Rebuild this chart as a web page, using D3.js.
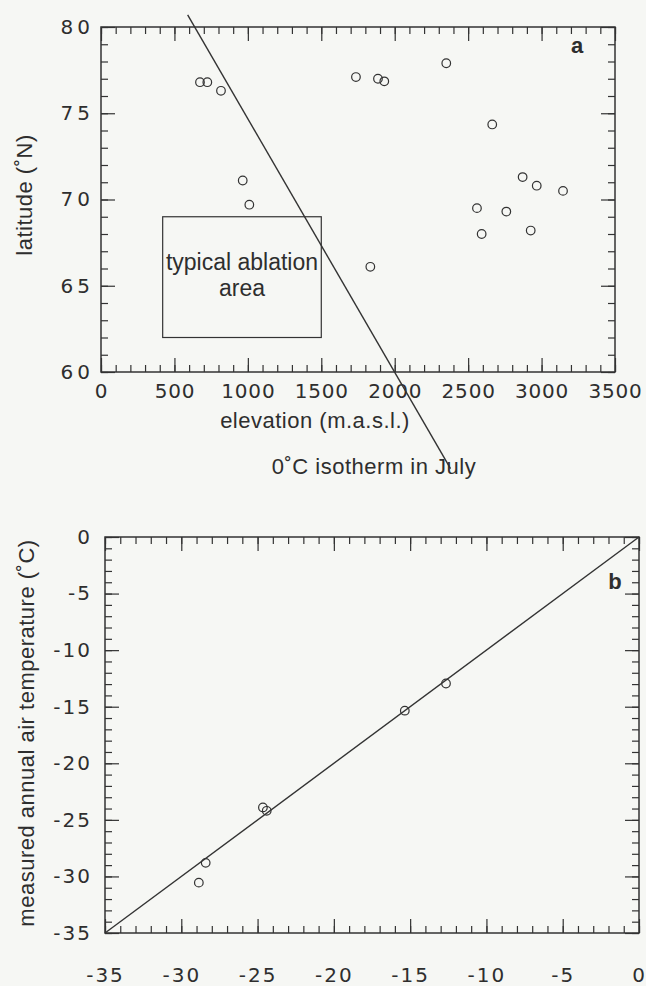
<!DOCTYPE html>
<html>
<head>
    <meta charset="utf-8" />
    <title>Station elevation, latitude and air temperature</title>
    <script type="text/javascript" src="https://cdn.jsdelivr.net/npm/d3@7/dist/d3.min.js"></script>
    <style>
        body { margin: 0; background: #f6f7f4; }
        svg { display: block; }
        .frame { fill: none; stroke: #333; stroke-width: 1.5px; }
        .tick line { stroke: #333; stroke-width: 1.2px; }
        .tick text { font-family: "DejaVu Sans", sans-serif; font-size: 20px; fill: #2e2e2e; }
        .title { font-family: "Liberation Sans", Arial, sans-serif; font-size: 22px; letter-spacing: 0.5px; fill: #2e2e2e; }
        .panel { font-family: "Liberation Sans", Arial, sans-serif; font-size: 22px; font-weight: bold; fill: #2e2e2e; }
        .dot { fill: none; stroke: #333; stroke-width: 1.2px; }
        .line { fill: none; stroke: #333; stroke-width: 1.4px; }
    </style>
</head>
<body>
    <script type="text/javascript">
        // panel a: station elevation vs latitude
        const elevation = [674, 724, 817, 965, 1010, 1736, 1886, 1929, 2351, 2664, 2871, 2967, 3146, 2560, 2760, 2592, 2926, 1834];
        const latitude = [76.8, 76.8, 76.3, 71.1, 69.7, 77.1, 77.0, 76.85, 77.9, 74.35, 71.3, 70.8, 70.5, 69.5, 69.3, 68.0, 68.2, 66.1];
        const isothermElev = [590, 2380];
        const isothermLat = [80.7, 54.4];
        const ablationElev = [420, 1500];
        const ablationLat = [62, 69];
        const elevTicks = [0, 500, 1000, 1500, 2000, 2500, 3000, 3500];
        const latTicks = [60, 65, 70, 75, 80];

        // panel b: modelled vs measured annual air temperature
        const modelTemp = [-28.4, -28.85, -24.65, -24.4, -15.35, -12.65];
        const measuredTemp = [-28.8, -30.55, -23.9, -24.2, -15.35, -12.95];
        const oneToOne = [-35, 0];
        const tempTicks = [-35, -30, -25, -20, -15, -10, -5, 0];

        const width = 646, height = 986;

        const svg = d3.select('body').append('svg')
            .attr('width', width)
            .attr('height', height);

        // minor ticks every step across the domain
        function minor(domain, step) {
            const out = [];
            for (let v = domain[0]; v <= domain[1] + 1e-9; v += step) out.push(Math.round(v * 100) / 100);
            return out;
        }

        // box with inward ticks on all four sides, labels left and bottom
        function frame(g, x, y, o) {
            const [x0, x1] = x.range(), [y0, y1] = y.range();
            const sides = [
                [d3.axisBottom, x, o.xMajor, o.xStep, 'translate(0,' + y0 + ')', o.xPad, o.xLs],
                [d3.axisTop, x, o.xMajor, o.xStep, 'translate(0,' + y1 + ')', 0, null],
                [d3.axisLeft, y, o.yMajor, o.yStep, 'translate(' + x0 + ',0)', o.yPad, o.yLs],
                [d3.axisRight, y, o.yMajor, o.yStep, 'translate(' + x1 + ',0)', 0, null]
            ];
            sides.forEach(([axisFn, sc, major, step, tr, pad, ls]) => {
                g.append('g')
                    .attr('transform', tr)
                    .call(axisFn(sc).tickValues(minor(sc.domain(), step)).tickSize(-7).tickFormat(''))
                    .call(a => a.select('.domain').remove());
                g.append('g')
                    .attr('transform', tr)
                    .call(axisFn(sc).tickValues(major).tickSize(-14).tickPadding(pad)
                        .tickFormat(ls === null ? '' : d => String(d)))
                    .call(a => a.select('.domain').remove())
                    .selectAll('text').style('letter-spacing', ls + 'px');
            });
            g.append('rect')
                .attr('class', 'frame')
                .attr('x', x0).attr('y', y1)
                .attr('width', x1 - x0).attr('height', y0 - y1);
        }

        // ---- panel a ----
        const xa = d3.scaleLinear().domain([0, 3500]).range([101, 615]);
        const ya = d3.scaleLinear().domain([60, 80]).range([372, 27]);
        const ga = svg.append('g');
        frame(ga, xa, ya, {
            xMajor: elevTicks, xStep: 100, xPad: 12, xLs: 0.8,
            yMajor: latTicks, yStep: 1, yPad: 7, yLs: 4
        });

        ga.append('rect')
            .attr('class', 'frame')
            .style('stroke-width', '1.2px')
            .attr('x', xa(ablationElev[0]))
            .attr('y', ya(ablationLat[1]))
            .attr('width', xa(ablationElev[1]) - xa(ablationElev[0]))
            .attr('height', ya(ablationLat[0]) - ya(ablationLat[1]));

        const boxMid = (xa(ablationElev[0]) + xa(ablationElev[1])) / 2;
        ga.append('text').attr('class', 'title').style('font-size', '23px').style('letter-spacing', '0px')
            .attr('x', boxMid).attr('y', 270).attr('text-anchor', 'middle').text('typical ablation');
        ga.append('text').attr('class', 'title').style('font-size', '23px').style('letter-spacing', '0px')
            .attr('x', boxMid).attr('y', 296).attr('text-anchor', 'middle').text('area');

        ga.append('path')
            .datum(isothermElev.map((e, i) => [e, isothermLat[i]]))
            .attr('class', 'line')
            .attr('d', d3.line().x(d => xa(d[0])).y(d => ya(d[1])));

        ga.selectAll('.dot')
            .data(elevation.map((e, i) => [e, latitude[i]]))
            .enter().append('circle')
            .attr('class', 'dot')
            .attr('r', 4.3)
            .attr('cx', d => xa(d[0]))
            .attr('cy', d => ya(d[1]));

        ga.append('text').attr('class', 'panel').attr('x', 577).attr('y', 53).attr('text-anchor', 'middle').text('a');

        ga.append('text').attr('class', 'title')
            .attr('transform', 'translate(32,195) rotate(-90)')
            .attr('text-anchor', 'middle').text('latitude (˚N)');
        ga.append('text').attr('class', 'title')
            .attr('x', 315).attr('y', 428).attr('text-anchor', 'middle').text('elevation (m.a.s.l.)');
        ga.append('text').attr('class', 'title')
            .attr('x', 374).attr('y', 474).attr('text-anchor', 'middle').text('0˚C isotherm in July');

        // ---- panel b ----
        const xb = d3.scaleLinear().domain([-35, 0]).range([105, 639]);
        const yb = d3.scaleLinear().domain([-35, 0]).range([933, 537]);
        const gb = svg.append('g');
        frame(gb, xb, yb, {
            xMajor: tempTicks, xStep: 1, xPad: 35, xLs: 2,
            yMajor: tempTicks, yStep: 1, yPad: 13, yLs: 2
        });

        gb.append('path')
            .datum(oneToOne.map(v => [v, v]))
            .attr('class', 'line')
            .attr('d', d3.line().x(d => xb(d[0])).y(d => yb(d[1])));

        gb.selectAll('.dot')
            .data(modelTemp.map((m, i) => [m, measuredTemp[i]]))
            .enter().append('circle')
            .attr('class', 'dot')
            .attr('r', 4.3)
            .attr('cx', d => xb(d[0]))
            .attr('cy', d => yb(d[1]));

        gb.append('text').attr('class', 'panel').attr('x', 615).attr('y', 589).attr('text-anchor', 'middle').text('b');

        gb.append('text').attr('class', 'title')
            .attr('transform', 'translate(34,733) rotate(-90)')
            .attr('text-anchor', 'middle').text('measured annual air temperature (˚C)');
    </script>
</body>
</html>
